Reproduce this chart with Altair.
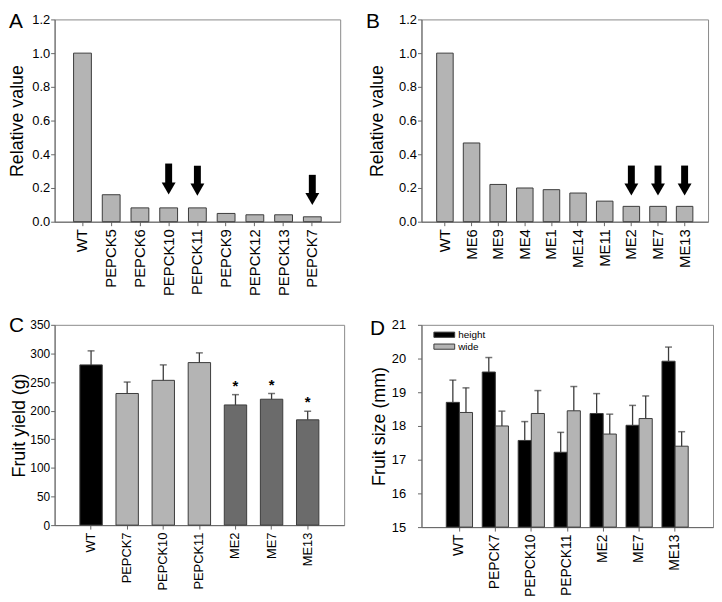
import altair as alt
import pandas as pd

FONT = "Liberation Sans"

# ---------------- data ----------------
# Panel A
a_lines = ["WT", "PEPCK5", "PEPCK6", "PEPCK10", "PEPCK11", "PEPCK9", "PEPCK12", "PEPCK13", "PEPCK7"]
a_values = [1.0, 0.16, 0.082, 0.082, 0.082, 0.049, 0.041, 0.041, 0.029]
a_arrow_lines = ["PEPCK10", "PEPCK11", "PEPCK7"]
a_arrow_top = [0.345, 0.332, 0.278]
a_arrow_tip = [0.161, 0.155, 0.099]

# Panel B
b_lines = ["WT", "ME6", "ME9", "ME4", "ME1", "ME14", "ME11", "ME2", "ME7", "ME13"]
b_values = [1.0, 0.467, 0.221, 0.2, 0.19, 0.17, 0.122, 0.091, 0.091, 0.091]
b_arrow_lines = ["ME2", "ME7", "ME13"]
b_arrow_top = [0.333, 0.333, 0.333]
b_arrow_tip = [0.156, 0.156, 0.156]

# Panel C
c_lines = ["WT", "PEPCK7", "PEPCK10", "PEPCK11", "ME2", "ME7", "ME13"]
c_values = [280, 230, 253, 284, 210, 220, 184]
c_errors = [24.5, 20, 27, 17, 18, 10, 15]
c_group = ["WT", "PEPCK", "PEPCK", "PEPCK", "ME", "ME", "ME"]
c_stars = ["", "", "", "", "*", "*", "*"]

# Panel D
d_lines = ["WT", "PEPCK7", "PEPCK10", "PEPCK11", "ME2", "ME7", "ME13"]
d_series = ["height", "wide"]
d_height = [18.70, 19.60, 17.57, 17.22, 18.37, 18.02, 19.92]
d_height_err = [0.66, 0.43, 0.56, 0.59, 0.59, 0.59, 0.42]
d_wide = [18.40, 18.00, 18.37, 18.45, 17.76, 18.22, 17.40]
d_wide_err = [0.73, 0.44, 0.68, 0.72, 0.59, 0.67, 0.43]

LIGHT = "#b4b4b4"
DARK = "#6b6b6b"
EDGE = "#3c3c3c"


def letter_layer(letter, lx, ly):
    return alt.Chart(pd.DataFrame({"t": [letter]})).mark_text(
        font=FONT, fontSize=21, align="left", baseline="top", color="black"
    ).encode(text="t:N", x=alt.value(lx), y=alt.value(ly))


def xenc(lines, pin, pout, fs):
    return alt.X(
        "line:N",
        sort=lines,
        scale=alt.Scale(domain=lines, paddingInner=pin, paddingOuter=pout),
        axis=alt.Axis(title=None, labelAngle=-90, labelFontSize=fs, labelPadding=3,
                      tickSize=4, labelFont=FONT),
    )


def yaxis(title, values, fmt, fs, tx, lpad):
    kw = dict(title=title, values=values, labelFontSize=fs, titleX=tx,
              titleBaseline="top", labelOverlap=False, tickSize=4, labelPadding=lpad,
              titleFontSize=18, labelFont=FONT, titleFont=FONT)
    if fmt:
        kw["format"] = fmt
    return alt.Axis(**kw)


def relative_panel(lines, values, arr_lines, arr_top, arr_tip, letter, width, height,
                   pout, tx, lx):
    df = pd.DataFrame({"line": lines, "value": values})
    adf = pd.DataFrame({"line": arr_lines, "top": arr_top, "tip": arr_tip})
    x = xenc(lines, 0.38, pout, 15)
    sc = alt.Scale(domain=[0, 1.2], nice=False)
    ax = yaxis("Relative value", [0, 0.2, 0.4, 0.6, 0.8, 1.0, 1.2], ".1f", 13, tx, 1)
    bars = alt.Chart(df).mark_bar(color=LIGHT, stroke=EDGE, strokeWidth=1).encode(
        x=x, y=alt.Y("value:Q", scale=sc, axis=ax))
    shaft = alt.Chart(adf).mark_rule(color="black", strokeWidth=7, y2Offset=-11).encode(
        x=x, y=alt.Y("top:Q", scale=sc, axis=ax), y2="tip:Q"
    )
    head = alt.Chart(adf).mark_point(
        shape="triangle-down", size=196, filled=True, color="black", opacity=1, yOffset=-6
    ).encode(x=x, y=alt.Y("tip:Q", scale=sc, axis=ax))
    return alt.layer(bars, shaft, head, letter_layer(letter, lx, -8)).properties(
        width=width, height=height)


# Panel A / B
pa = relative_panel(a_lines, a_values, a_arrow_lines, a_arrow_top, a_arrow_tip, "A",
                    288, 204, 0.66, -46, -46)
pb = relative_panel(b_lines, b_values, b_arrow_lines, b_arrow_top, b_arrow_tip, "B",
                    289, 204, 0.57, -53, -56)

# Panel C
cdf = pd.DataFrame({"line": c_lines, "value": c_values, "err": c_errors,
                    "group": c_group, "star": c_stars})
cdf["top"] = cdf["value"] + cdf["err"]
cx = xenc(c_lines, 0.38, 0.7, 13)
csc = alt.Scale(domain=[0, 350], nice=False)
cax = yaxis("Fruit yield (g)", list(range(0, 351, 50)), None, 12, -44, 1)
c_bars = alt.Chart(cdf).mark_bar(stroke=EDGE, strokeWidth=1).encode(
    x=cx, y=alt.Y("value:Q", scale=csc, axis=cax),
    color=alt.Color("group:N", scale=alt.Scale(domain=["WT", "PEPCK", "ME"],
                                              range=["#000000", LIGHT, DARK]), legend=None),
)
c_rule = alt.Chart(cdf).mark_rule(color=EDGE, strokeWidth=1.3).encode(
    x=cx, y=alt.Y("value:Q", scale=csc, axis=cax), y2="top:Q")
c_cap = alt.Chart(cdf).mark_tick(color=EDGE, size=7, thickness=1.5).encode(
    x=cx, y=alt.Y("top:Q", scale=csc, axis=cax))
c_star = alt.Chart(cdf).transform_filter("datum.star != ''").mark_text(
    font=FONT, fontSize=15, fontWeight="bold", dy=-9, color="black"
).encode(x=cx, y=alt.Y("top:Q", scale=csc, axis=cax), text="star:N")
pc = alt.layer(c_bars, c_rule, c_cap, c_star, letter_layer("C", -46, -10)).properties(
    width=292, height=202)

# Panel D
rows = []
for i, ln in enumerate(d_lines):
    rows.append({"line": ln, "series": "height", "value": d_height[i], "err": d_height_err[i]})
    rows.append({"line": ln, "series": "wide", "value": d_wide[i], "err": d_wide_err[i]})
ddf = pd.DataFrame(rows)
ddf["top"] = ddf["value"] + ddf["err"]
dx = xenc(d_lines, 0.27, 0.69, 14)
dxo = alt.XOffset("series:N", sort=d_series,
                  scale=alt.Scale(domain=d_series, paddingInner=0, paddingOuter=0))
dsc = alt.Scale(domain=[15, 21], zero=False, nice=False)
dax = yaxis("Fruit size (mm)", list(range(15, 22)), None, 13, -51, 12)
d_bars = alt.Chart(ddf).mark_bar(stroke=EDGE, strokeWidth=1).encode(
    x=dx, xOffset=dxo, y=alt.Y("value:Q", scale=dsc, axis=dax), y2=alt.datum(15),
    color=alt.Color(
        "series:N",
        scale=alt.Scale(domain=d_series, range=["#000000", LIGHT]),
        legend=alt.Legend(
            title=None, orient="none", legendX=17, legendY=4,
            symbolType="M-2,-0.5H2V0.5H-2Z", symbolSize=110,
            symbolStrokeColor=EDGE, symbolStrokeWidth=1, symbolOpacity=1,
            labelFontSize=10, labelFont=FONT, labelColor="black",
            labelOffset=8, rowPadding=1, padding=0,
        ),
    ),
)
d_rule = alt.Chart(ddf).mark_rule(color=EDGE, strokeWidth=1.3).encode(
    x=dx, xOffset=dxo, y=alt.Y("value:Q", scale=dsc, axis=dax), y2="top:Q")
d_cap = alt.Chart(ddf).mark_tick(color=EDGE, size=7, thickness=1.5).encode(
    x=dx, xOffset=dxo, y=alt.Y("top:Q", scale=dsc, axis=dax))
pd_ = alt.layer(d_bars, d_rule, d_cap, letter_layer("D", -52, -7)).properties(
    width=294, height=204)

chart = alt.concat(
    pa, pb, pc, pd_, columns=2, spacing={"row": 104, "column": 78},
    bounds="flush", align="each",
).resolve_scale(color="independent").resolve_legend(color="independent").properties(
    padding=0
).configure(font=FONT).configure_axis(
    grid=False, domainColor="#666666", tickColor="#666666", labelColor="#000000",
    titleColor="#000000", labelFont=FONT, titleFont=FONT, titleFontWeight="normal",
    titleFontSize=18, tickSize=4, labelPadding=2,
).configure_view(stroke="#8a8a8a", strokeWidth=1)

chart.save("out.html", embed_options={"renderer": "svg", "actions": False})
